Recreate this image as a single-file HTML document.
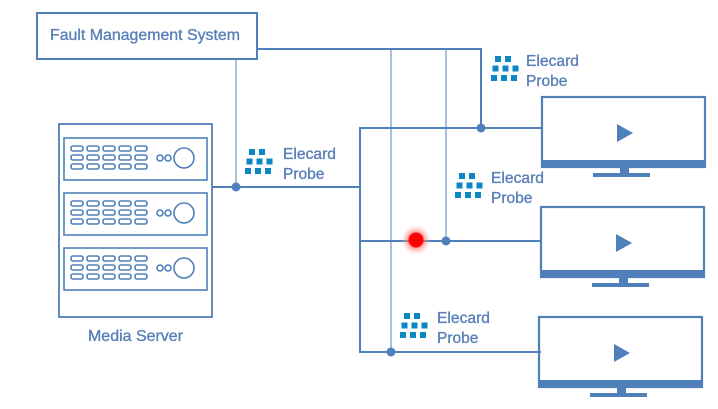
<!DOCTYPE html>
<html><head><meta charset="utf-8"><style>
html,body{margin:0;padding:0;background:#fff;width:718px;height:409px;overflow:hidden}
text{font-family:"Liberation Sans",sans-serif;fill:#5a80b8;stroke:#5a80b8;stroke-width:0.35}
</style></head><body>
<svg width="718" height="409" viewBox="0 0 718 409" xmlns="http://www.w3.org/2000/svg">
<defs>
<g id="probe" fill="#0a86c4">
<rect x="4" y="0" width="6" height="6"/><rect x="14" y="0" width="6" height="6"/>
<rect x="1.5" y="9.5" width="6" height="6"/><rect x="11.5" y="9.5" width="6" height="6"/><rect x="21.5" y="9.5" width="6" height="6"/>
<rect x="0" y="19" width="6" height="6"/><rect x="10" y="19" width="6" height="6"/><rect x="20" y="19" width="6" height="6"/>
</g>
<g id="unit" fill="none" stroke="#4f80ba" stroke-width="1.6">
<rect x="0" y="0" width="143" height="42"/>
<g>
<rect x="7" y="8" width="12" height="5" rx="2"/><rect x="23" y="8" width="12" height="5" rx="2"/><rect x="39" y="8" width="12" height="5" rx="2"/><rect x="55" y="8" width="12" height="5" rx="2"/><rect x="71" y="8" width="12" height="5" rx="2"/>
<rect x="7" y="17" width="12" height="5" rx="2"/><rect x="23" y="17" width="12" height="5" rx="2"/><rect x="39" y="17" width="12" height="5" rx="2"/><rect x="55" y="17" width="12" height="5" rx="2"/><rect x="71" y="17" width="12" height="5" rx="2"/>
<rect x="7" y="26" width="12" height="5" rx="2"/><rect x="23" y="26" width="12" height="5" rx="2"/><rect x="39" y="26" width="12" height="5" rx="2"/><rect x="55" y="26" width="12" height="5" rx="2"/><rect x="71" y="26" width="12" height="5" rx="2"/>
</g>
<circle cx="96" cy="20" r="3"/><circle cx="104" cy="20" r="3"/><circle cx="120" cy="20" r="10"/>
</g>
<g id="mon">
<rect x="1" y="1" width="163" height="70" fill="none" stroke="#4f80ba" stroke-width="2.2"/>
<rect x="0" y="64" width="165" height="8" fill="#4f80ba"/>
<rect x="79" y="72" width="9" height="5" fill="#4f80ba"/>
<rect x="52" y="77" width="57" height="4" fill="#4f80ba"/>
<polygon points="76,28 92,37 76,46" fill="#4f80ba"/>
</g>
<radialGradient id="glow"><stop offset="0.45" stop-color="#ff0000"/><stop offset="0.55" stop-color="#ff6a6a" stop-opacity="0.6"/><stop offset="1" stop-color="#ffb0b0" stop-opacity="0"/></radialGradient>
</defs>

<g stroke="#a9c1de" stroke-width="2" fill="none">
<line x1="236" y1="59" x2="236" y2="187"/>
<line x1="391" y1="49" x2="391" y2="352"/>
<line x1="446" y1="49" x2="446" y2="241"/>
</g>
<g stroke="#4f80ba" stroke-width="2" fill="none">
<polyline points="257,49 481,49 481,128"/>
<line x1="213" y1="187" x2="360" y2="187"/>
<polyline points="541,128 360,128 360,352 541,352"/>
<line x1="360" y1="241" x2="541" y2="241"/>
</g>
<rect x="37" y="13" width="220" height="46" fill="#fff" stroke="#4f80ba" stroke-width="2"/>
<text x="50" y="40" font-size="15.5" textLength="190" lengthAdjust="spacingAndGlyphs">Fault Management System</text>

<rect x="59" y="124" width="153" height="193" fill="none" stroke="#4f80ba" stroke-width="1.8"/>
<use href="#unit" x="64" y="138"/>
<use href="#unit" x="64" y="193"/>
<use href="#unit" x="64" y="248"/>
<text x="88" y="341" font-size="15.5" textLength="95" lengthAdjust="spacingAndGlyphs">Media Server</text>

<g fill="#4f80ba">
<circle cx="236" cy="187" r="4.5"/><circle cx="481" cy="128" r="4.5"/><circle cx="446" cy="241" r="4.5"/><circle cx="391" cy="352" r="4.5"/>
</g>
<circle cx="416" cy="240" r="15" fill="url(#glow)"/>
<circle cx="416" cy="240" r="7" fill="#ff0000"/>

<use href="#probe" x="245" y="149"/>
<text x="283" y="159" font-size="15.5" textLength="53" lengthAdjust="spacingAndGlyphs">Elecard</text><text x="283" y="179" font-size="15.5">Probe</text>
<use href="#probe" x="491" y="56"/>
<text x="526" y="66" font-size="15.5" textLength="53" lengthAdjust="spacingAndGlyphs">Elecard</text><text x="526" y="86" font-size="15.5">Probe</text>
<use href="#probe" x="455" y="173"/>
<text x="491" y="183" font-size="15.5" textLength="53" lengthAdjust="spacingAndGlyphs">Elecard</text><text x="491" y="203" font-size="15.5">Probe</text>
<use href="#probe" x="400" y="313"/>
<text x="437" y="323" font-size="15.5" textLength="53" lengthAdjust="spacingAndGlyphs">Elecard</text><text x="437" y="343" font-size="15.5">Probe</text>

<use href="#mon" x="541" y="96"/>
<use href="#mon" x="540" y="206"/>
<use href="#mon" x="538" y="316"/>
</svg>
</body></html>
